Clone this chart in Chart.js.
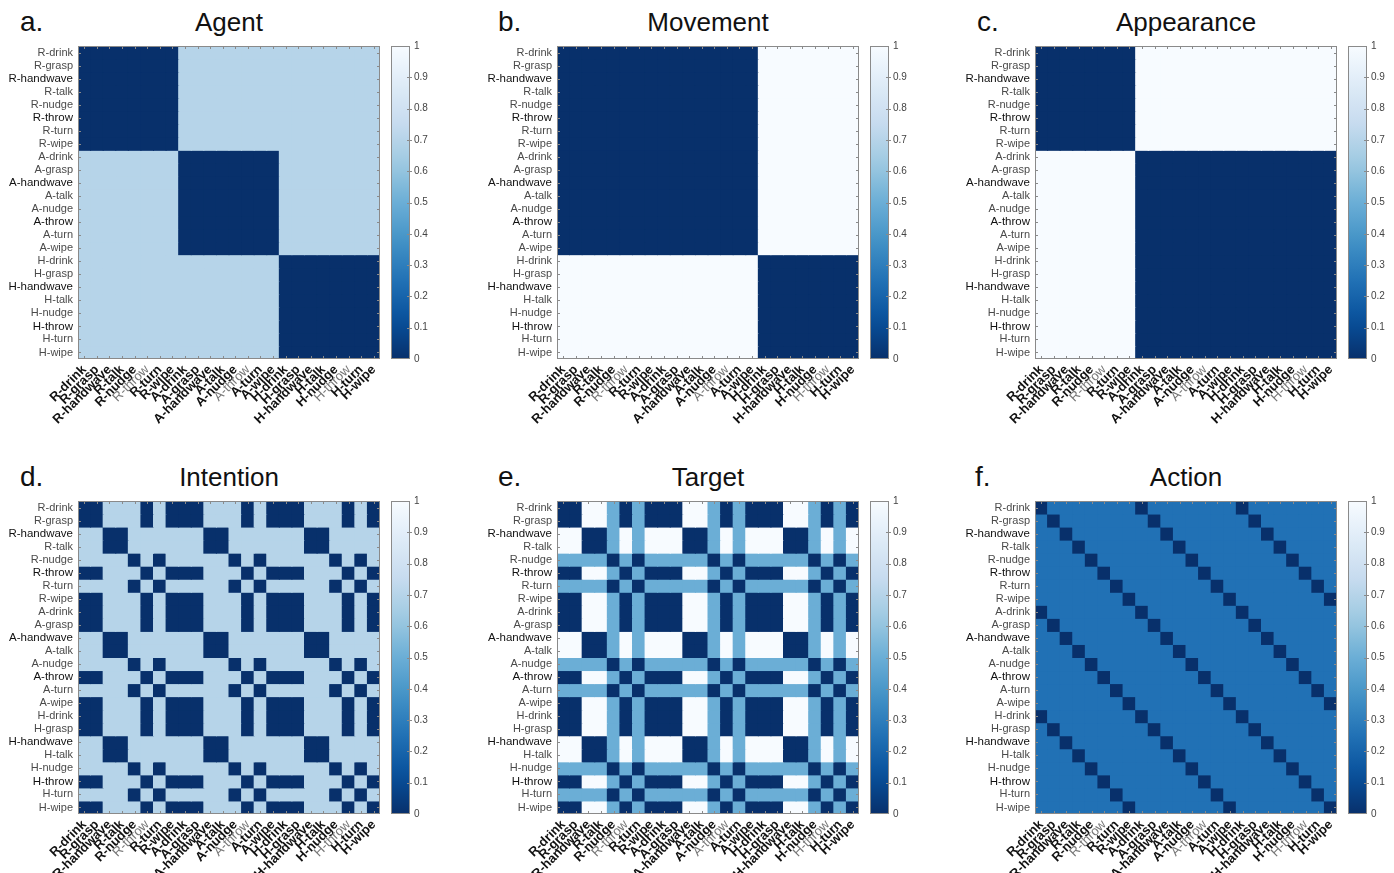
<!DOCTYPE html>
<html>
<head>
<meta charset="utf-8">
<script src="https://cdn.jsdelivr.net/npm/chart.js@4.4.1/dist/chart.umd.min.js"></script>
<style>
  body { margin: 0; background: #fff; width: 1394px; height: 873px; overflow: hidden; position: relative; font-family: "Liberation Sans", Arial, sans-serif; }
  .box { position: absolute; }
  .title { position: absolute; text-align: center; font-size: 26px; line-height: 28px; color: #111; }
  .letter { position: absolute; font-size: 28px; line-height: 28px; color: #111; }
</style>
</head>
<body>
<script>
// condition names (rows and columns)
const names = [
  'R-drink','R-grasp','R-handwave','R-talk','R-nudge','R-throw','R-turn','R-wipe',
  'A-drink','A-grasp','A-handwave','A-talk','A-nudge','A-throw','A-turn','A-wipe',
  'H-drink','H-grasp','H-handwave','H-talk','H-nudge','H-throw','H-turn','H-wipe'
];
const cbTicks = [0, 0.1, 0.2, 0.3, 0.4, 0.5, 0.6, 0.7, 0.8, 0.9, 1];

// each matrix: one string per row, digit = index into its levels list
const agentLevels = [0, 0.7];
const agentRows = [
  '000000001111111111111111','000000001111111111111111','000000001111111111111111','000000001111111111111111',
  '000000001111111111111111','000000001111111111111111','000000001111111111111111','000000001111111111111111',
  '111111110000000011111111','111111110000000011111111','111111110000000011111111','111111110000000011111111',
  '111111110000000011111111','111111110000000011111111','111111110000000011111111','111111110000000011111111',
  '111111111111111100000000','111111111111111100000000','111111111111111100000000','111111111111111100000000',
  '111111111111111100000000','111111111111111100000000','111111111111111100000000','111111111111111100000000'
];
const movementLevels = [0, 1];
const movementRows = [
  '000000000000000011111111','000000000000000011111111','000000000000000011111111','000000000000000011111111',
  '000000000000000011111111','000000000000000011111111','000000000000000011111111','000000000000000011111111',
  '000000000000000011111111','000000000000000011111111','000000000000000011111111','000000000000000011111111',
  '000000000000000011111111','000000000000000011111111','000000000000000011111111','000000000000000011111111',
  '111111111111111100000000','111111111111111100000000','111111111111111100000000','111111111111111100000000',
  '111111111111111100000000','111111111111111100000000','111111111111111100000000','111111111111111100000000'
];
const appearanceLevels = [0, 1];
const appearanceRows = [
  '000000001111111111111111','000000001111111111111111','000000001111111111111111','000000001111111111111111',
  '000000001111111111111111','000000001111111111111111','000000001111111111111111','000000001111111111111111',
  '111111110000000000000000','111111110000000000000000','111111110000000000000000','111111110000000000000000',
  '111111110000000000000000','111111110000000000000000','111111110000000000000000','111111110000000000000000',
  '111111110000000000000000','111111110000000000000000','111111110000000000000000','111111110000000000000000',
  '111111110000000000000000','111111110000000000000000','111111110000000000000000','111111110000000000000000'
];
const intentionLevels = [0, 0.7];
const intentionRows = [
  '001110100011101000111010','001110100011101000111010','110011111100111111001111','110011111100111111001111',
  '111101011111010111110101','001110100011101000111010','111101011111010111110101','001110100011101000111010',
  '001110100011101000111010','001110100011101000111010','110011111100111111001111','110011111100111111001111',
  '111101011111010111110101','001110100011101000111010','111101011111010111110101','001110100011101000111010',
  '001110100011101000111010','001110100011101000111010','110011111100111111001111','110011111100111111001111',
  '111101011111010111110101','001110100011101000111010','111101011111010111110101','001110100011101000111010'
];
const targetLevels = [0, 0.5, 1];
const targetRows = [
  '002210100022101000221010','002210100022101000221010','220012122200121222001212','220012122200121222001212',
  '111101011111010111110101','002210100022101000221010','111101011111010111110101','002210100022101000221010',
  '002210100022101000221010','002210100022101000221010','220012122200121222001212','220012122200121222001212',
  '111101011111010111110101','002210100022101000221010','111101011111010111110101','002210100022101000221010',
  '002210100022101000221010','002210100022101000221010','220012122200121222001212','220012122200121222001212',
  '111101011111010111110101','002210100022101000221010','111101011111010111110101','002210100022101000221010'
];
const actionLevels = [0, 0.25];
const actionRows = [
  '011111110111111101111111','101111111011111110111111','110111111101111111011111','111011111110111111101111',
  '111101111111011111110111','111110111111101111111011','111111011111110111111101','111111101111111011111110',
  '011111110111111101111111','101111111011111110111111','110111111101111111011111','111011111110111111101111',
  '111101111111011111110111','111110111111101111111011','111111011111110111111101','111111101111111011111110',
  '011111110111111101111111','101111111011111110111111','110111111101111111011111','111011111110111111101111',
  '111101111111011111110111','111110111111101111111011','111111011111110111111101','111111101111111011111110'
];

const panels = [
  { letter: 'a.', title: 'Agent',      rows: agentRows,      levels: agentLevels,      left: 78,   top: 46,  lx: 20 },
  { letter: 'b.', title: 'Movement',   rows: movementRows,   levels: movementLevels,   left: 557,  top: 46,  lx: 498 },
  { letter: 'c.', title: 'Appearance', rows: appearanceRows, levels: appearanceLevels, left: 1035, top: 46,  lx: 977 },
  { letter: 'd.', title: 'Intention',  rows: intentionRows,  levels: intentionLevels,  left: 78,   top: 501, lx: 20 },
  { letter: 'e.', title: 'Target',     rows: targetRows,     levels: targetLevels,     left: 557,  top: 501, lx: 498 },
  { letter: 'f.', title: 'Action',     rows: actionRows,     levels: actionLevels,     left: 1035, top: 501, lx: 975 }
];

const PW = 302, PH = 313, YW = 80, XH = 85, PADT = 8, PADR = 4;
const FONT = '"Liberation Sans", Arial, sans-serif';

// reversed Blues colormap
const blueStops = ['#08306b','#08519c','#2171b5','#4292c6','#6baed6','#9ecae1','#c6dbef','#deebf7','#f7fbff'];
function hex(h){ return [1,3,5].map(i => parseInt(h.substr(i,2),16)); }
function blues(v){
  v = Math.max(0, Math.min(1, v));
  const p = v * (blueStops.length - 1), i = Math.min(Math.floor(p), blueStops.length - 2), t = p - i;
  const a = hex(blueStops[i]), b = hex(blueStops[i+1]);
  const c = a.map((x, k) => Math.round(x + (b[k] - x) * t));
  return `rgb(${c[0]},${c[1]},${c[2]})`;
}

// box + inner tick marks, matlab style
const frame = {
  id: 'frame',
  afterDraw(chart) {
    const { ctx, chartArea: a, scales } = chart;
    ctx.save();
    ctx.strokeStyle = '#8a8a8a';
    ctx.lineWidth = 1;
    ctx.beginPath();
    if (chart.options.plugins.frame.heat) {
      names.forEach((n, i) => {
        const x = Math.round(scales.x.getPixelForValue(i)) + 0.5;
        ctx.moveTo(x, a.top); ctx.lineTo(x, a.top + 3);
        ctx.moveTo(x, a.bottom); ctx.lineTo(x, a.bottom - 3);
        const y = Math.round(scales.y.getPixelForValue(i + 0.5)) + 0.5;
        ctx.moveTo(a.left, y); ctx.lineTo(a.left + 3, y);
        ctx.moveTo(a.right, y); ctx.lineTo(a.right - 3, y);
      });
    } else {
      cbTicks.slice(1, -1).forEach(v => {
        const y = Math.round(scales.y.getPixelForValue(v)) + 0.5;
        ctx.moveTo(a.right - 3, y); ctx.lineTo(a.right + 2, y);
      });
    }
    ctx.stroke();
    ctx.strokeRect(Math.round(a.left) + 0.5, Math.round(a.top) + 0.5, Math.round(a.right - a.left) - 1, Math.round(a.bottom - a.top) - 1);
    ctx.restore();
  }
};

function addDiv(cls, text, css) {
  const d = document.createElement('div');
  d.className = cls;
  d.textContent = text;
  Object.assign(d.style, css);
  document.body.appendChild(d);
}
function addCanvas(left, top, w, h) {
  const c = document.createElement('canvas');
  c.width = w; c.height = h;
  c.className = 'box';
  Object.assign(c.style, { left: left + 'px', top: top + 'px', width: w + 'px', height: h + 'px' });
  document.body.appendChild(c);
  return c;
}
// fixed axis size, no extra label padding pushed into the plot area
function fixSize(key, size) {
  return s => { s[key] = size; s.paddingTop = s.paddingBottom = s.paddingLeft = s.paddingRight = 0; };
}

const nameAt = c => (c && names[c.index]) || '';
const isThrow = c => nameAt(c).endsWith('throw');
const strong = c => { const n = nameAt(c); return n.endsWith('handwave') || n.endsWith('throw'); };

panels.forEach(p => {
  const values = p.rows.map(s => [...s].map(ch => p.levels[+ch]));
  const titleY = p.top < 100 ? 22 : 477;
  addDiv('title', p.title, { left: p.left + 'px', width: PW + 'px', top: (titleY - 14) + 'px' });
  addDiv('letter', p.letter, { left: p.lx + 'px', top: (titleY - 14) + 'px' });

  const cv = addCanvas(p.left - YW, p.top - PADT, YW + PW + PADR, PADT + PH + XH);
  new Chart(cv, {
    type: 'bar',
    data: {
      labels: names,
      datasets: values.map((row, r) => ({
        data: row.map(() => [r, r + 1]),
        backgroundColor: row.map(v => blues(v)),
        borderWidth: 0,
        inflateAmount: 0.5,
        barPercentage: 1,
        categoryPercentage: 1,
        grouped: false
      }))
    },
    options: {
      responsive: false,
      animation: false,
      layout: { padding: { top: PADT, right: PADR, left: 0, bottom: 0 } },
      plugins: { legend: { display: false }, tooltip: { enabled: false }, frame: { heat: true } },
      scales: {
        x: {
          type: 'category',
          grid: { display: false, drawTicks: false },
          border: { display: false },
          afterFit: fixSize('height', XH),
          ticks: {
            autoSkip: false, minRotation: 45, maxRotation: 45, padding: 3,
            color: c => isThrow(c) ? '#777' : '#111',
            font: c => ({ family: FONT, size: 13, weight: isThrow(c) ? 'normal' : 'bold' })
          }
        },
        y: {
          type: 'linear', min: 0, max: 24, reverse: true,
          grid: { display: false, drawTicks: false },
          border: { display: false },
          afterFit: fixSize('width', YW),
          afterBuildTicks: s => { s.ticks = names.map((n, i) => ({ value: i + 0.5 })); },
          ticks: {
            autoSkip: false, padding: 5,
            callback: v => names[Math.floor(v)],
            color: c => strong(c) ? '#111' : '#4a4a4a',
            font: c => ({ family: FONT, size: strong(c) ? 11.5 : 11 })
          }
        }
      }
    },
    plugins: [frame]
  });

  // colour bar
  const CBW = 19, CBAX = 34, CBP = 8;
  const cb = addCanvas(p.left + 313, p.top - CBP, CBW + CBAX, PH + 2 * CBP);
  new Chart(cb, {
    type: 'bar',
    data: {
      labels: [''],
      datasets: [{
        data: [[0, 1]],
        borderWidth: 0, barPercentage: 1, categoryPercentage: 1,
        backgroundColor: ctx => {
          const a = ctx.chart.chartArea;
          if (!a) return blues(0.5);
          const g = ctx.chart.ctx.createLinearGradient(0, a.bottom, 0, a.top);
          for (let k = 0; k <= 20; k++) g.addColorStop(k / 20, blues(k / 20));
          return g;
        }
      }]
    },
    options: {
      responsive: false,
      animation: false,
      layout: { padding: { top: CBP, bottom: CBP, left: 0, right: 0 } },
      plugins: { legend: { display: false }, tooltip: { enabled: false }, frame: { heat: false } },
      scales: {
        x: { display: false },
        y: {
          position: 'right', min: 0, max: 1,
          grid: { display: false, drawTicks: false },
          border: { display: false },
          afterFit: fixSize('width', CBAX),
          afterBuildTicks: s => { s.ticks = cbTicks.map(v => ({ value: v })); },
          ticks: { padding: 4, color: '#444', font: { family: FONT, size: 10 }, callback: v => String(Math.round(v * 10) / 10) }
        }
      }
    },
    plugins: [frame]
  });
});
</script>
</body>
</html>
